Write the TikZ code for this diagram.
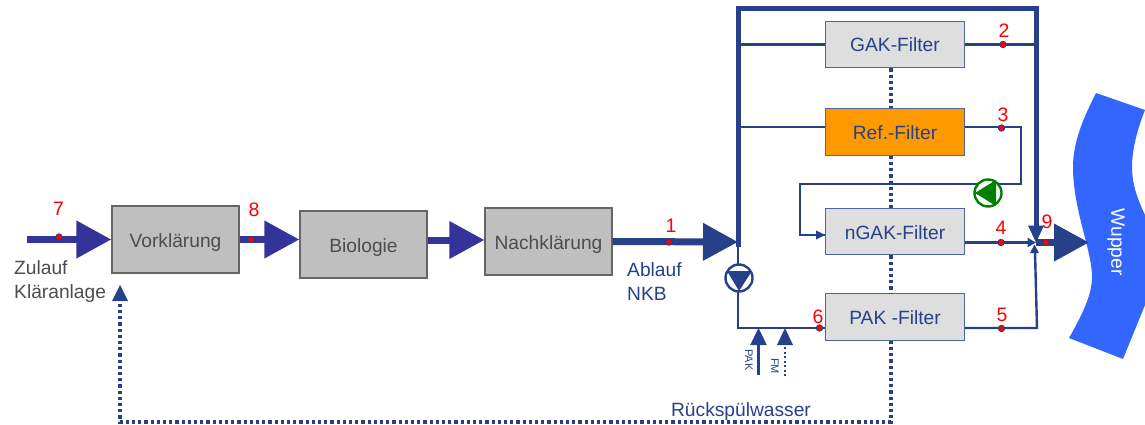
\documentclass[tikz,border=0pt]{standalone}
\usepackage{fontspec}
\setmainfont{Liberation Sans}
\usetikzlibrary{arrows.meta}
\definecolor{navy}{HTML}{26408A}
\definecolor{indigo}{HTML}{333399}
\definecolor{txtgrey}{HTML}{4D4D4D}
\definecolor{riverblue}{HTML}{3366FF}
\definecolor{pumpgreen}{HTML}{008000}
\definecolor{refbox}{HTML}{FF9900}
\tikzset{
  x=1pt,y=-1pt,
  txt/.style={inner sep=0pt,font=\fontsize{19.2}{19.2}\selectfont},
  stagebox/.style={txt,draw=black!60,line width=1.2pt,fill=black!25,text=txtgrey,minimum width=127pt,minimum height=67pt,text height=15pt,text depth=0pt},
  filterbox/.style={txt,draw=navy!80,line width=1.2pt,fill=black!13,text=navy,minimum width=138.5pt,minimum height=46.5pt,text height=15pt,text depth=0pt},
  feed/.style={line width=7pt,indigo,-{Triangle[length=35pt,width=36pt]}},
  mainfeed/.style={line width=7pt,navy,-{Triangle[length=35pt,width=36pt]}},
  pipe/.style={line width=2.4pt,navy,line join=miter},
  thickpipe/.style={line width=5pt,navy,line join=miter},
  pipearrow/.style={pipe,-{Triangle[length=8.5pt,width=9pt]}},
  feedarrow/.style={pipe,-{Triangle[length=17pt,width=16pt]}},
  backwash/.style={line width=3.2pt,navy,dash pattern=on 3.2pt off 3pt},
  smallback/.style={line width=2pt,navy,dash pattern=on 2pt off 2.5pt},
  measure/.style={circle,fill=red,draw=navy,line width=.8pt,minimum size=6.5pt,inner sep=0pt},
  num/.style={inner sep=0pt,text=red,font=\fontsize{19.5}{19.5}\selectfont},
  pumpring/.style={circle,fill=white,minimum size=27pt,inner sep=0pt,line width=2.4pt},
  lab/.style={txt,text=navy,align=left},
  tiny/.style={inner sep=0pt,text=navy,font=\fontsize{11}{11}\selectfont,rotate=-90}
}
\begin{document}
\begin{tikzpicture}
\useasboundingbox (0,0) rectangle (1145,425);
% river
\fill[riverblue] (1096,93) -- (1145,110) .. controls (1137,130) and (1132,150) .. (1132,167)
  .. controls (1132,185) and (1138,200) .. (1145,215) -- (1145,305) -- (1123,359) -- (1069,338)
  .. controls (1082,315) and (1092,295) .. (1092,277)
  .. controls (1092,250) and (1073,210) .. (1073,167)
  .. controls (1073,140) and (1085,115) .. (1096,93) -- cycle;
\node[inner sep=0pt,text=white,font=\fontsize{19.2}{19.2}\selectfont,rotate=-90] (wupper) at (1116,242) {Wupper};

% stage boxes
\node[stagebox] (vor) at (175.5,239.5) {Vorklärung};
\node[stagebox] (bio) at (363.5,244.5) {Biologie};
\node[stagebox] (nach) at (548.5,241.5) {Nachklärung};

% filter boxes
\node[filterbox] (gak) at (895,44.5) {GAK-Filter};
\node[filterbox,fill=refbox] (ref) at (895,132) {Ref.-Filter};
\node[filterbox] (ngak) at (895,231.5) {nGAK-Filter};
\node[filterbox] (pak) at (895,317) {PAK -Filter};

% junctions
\coordinate (zul) at (27,239.5);
\coordinate (split) at (738,242);
\coordinate (tl) at (738,9);
\coordinate (tr) at (1036,9);
\coordinate (merge) at (1036,242.5);
\coordinate (wtip) at (1089,242.5);
\coordinate (pakstart) at (758.5,375);
\coordinate (fmstart) at (785,376);
\coordinate (pakin) at (758.5,328);
\coordinate (fmin) at (785,328);
\coordinate (corner) at (738,328);
\coordinate (r1) at (1021,127);
\coordinate (r2) at (1021,184);
\coordinate (r3) at (800,184);
\coordinate (r4) at (800,235);
\coordinate (p1) at (1037,328);
\coordinate (bw1) at (891,422);
\coordinate (bw2) at (120,422);
\coordinate (bwtip) at (120,285);

% backwash (dotted)
\draw[backwash] (gak.south -| 891,0) -- (ref.north -| 891,0);
\draw[backwash] (ref.south -| 891,0) -- (ngak.north -| 891,0);
\draw[backwash] (ngak.south -| 891,0) -- (pak.north -| 891,0);
\draw[backwash] (pak.south -| 891,0) -- (bw1) -- (bw2) -- (120,302);
\fill[navy] (bwtip) -- (128,301) -- (112,301) -- cycle;

% main line
\draw[feed] (zul) -- (vor.west);
\draw[feed] (vor.east) -- (vor.east -| bio.west);
\draw[feed] (bio.east |- 0,240) -- (nach.west |- 0,240);
\draw[mainfeed] (nach.east) -- (split);

% pipes
\draw[pipe] (tl |- gak.west) -- (gak.west);
\draw[pipe] (gak.east) -- (tr |- gak.east);
\draw[pipe] (tl |- 0,127) -- (ref.west |- 0,127);
\draw[pipe] (ref.east |- r1) -- (r1) -- (r2) -- (r3) -- (r4) -- (ngak.west |- r4) ;
\fill[navy] (ngak.west |- r4) -- ++(-9,-4.5) -- ++(0,9) -- cycle;
\draw[pipe] (split) -- (corner) -- (pak.west |- corner);
\draw[pipe] (pak.east |- corner) -- (p1) -- (1035,252);
\fill[navy] (1034.5,244.5) -- (1039,253) -- (1030,253) -- cycle;
\draw[pipearrow] (ngak.east |- merge) -- (merge);
\draw[feedarrow] (pakstart) -- (pakin);
\draw[smallback] (fmstart) -- (785,345);
\fill[navy] (fmin) -- (793,345) -- (777,345) -- cycle;
\draw[line width=7pt,navy,-{Triangle[length=35pt,width=36pt]}] (merge) -- (wtip);

% thick bypass
\draw[thickpipe] (split) ++(0,5) -- (tl) -- (tr) -- (1036,228);
\fill[navy] (merge) -- (1044,225.5) -- (1028,225.5) -- cycle;

% pumps
\node[pumpring,draw=navy] (pumpa) at (739,278) {};
\fill[navy] (727,271) -- (752,271) -- (739,291) -- cycle;
\node[pumpring,draw=pumpgreen] (pumpb) at (988,193) {};
\fill[pumpgreen] (975,193) -- (996,180) -- (996,206) -- cycle;

% measuring points
\node[measure] (m1) at (669,242) {};
\node[measure] (m2) at (1003,44.5) {};
\node[measure] (m3) at (1001.5,128) {};
\node[measure] (m4) at (1001,242.5) {};
\node[measure] (m5) at (1001.5,328.5) {};
\node[measure] (m6) at (819.5,328) {};
\node[measure] (m7) at (59,237) {};
\node[measure] (m8) at (251,239.5) {};
\node[measure] (m9) at (1046,242.5) {};
\node[num] (n1) at (671,226) {1};
\node[num] (n2) at (1004,31) {2};
\node[num] (n3) at (1003,115) {3};
\node[num] (n4) at (1001,228) {4};
\node[num] (n5) at (1002,315) {5};
\node[num] (n6) at (818,317) {6};
\node[num] (n7) at (58.5,209) {7};
\node[num] (n8) at (254,210) {8};
\node[num] (n9) at (1047,222) {9};

% labels
\node[txt,text=txtgrey,align=left,anchor=north west] (zt) at (14,260) {Zulauf\\[5pt]Kläranlage};
\node[lab,anchor=north west] (ab) at (627,262) {Ablauf\\[5pt]NKB};
\node[txt,text=navy] (rs) at (741,412) {Rückspülwasser};
\node[tiny] (tp) at (749,360) {PAK};
\node[tiny] (tf) at (775,366) {FM};
\end{tikzpicture}
\end{document}
